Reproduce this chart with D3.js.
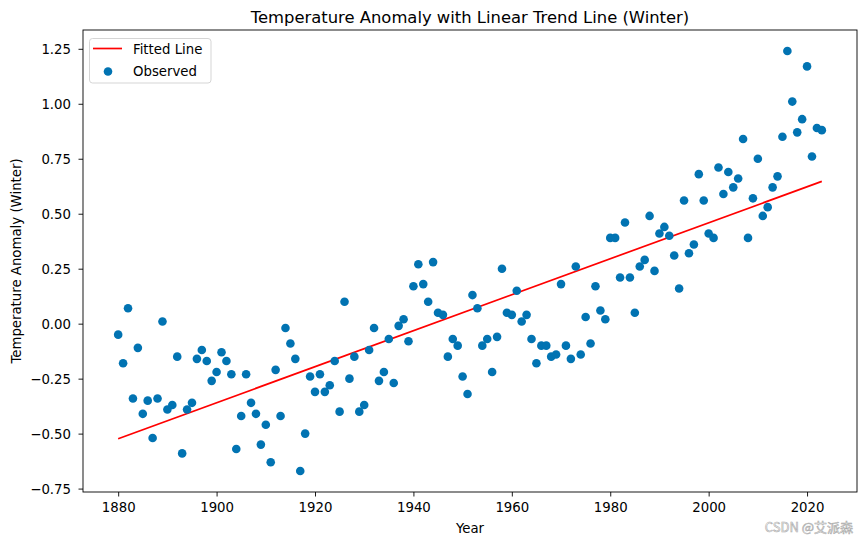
<!DOCTYPE html>
<html>
<head>
<meta charset="utf-8">
<script src="https://cdn.jsdelivr.net/npm/d3@7/dist/d3.min.js"></script>
<style>
  html, body { margin: 0; padding: 0; background: #fff; }
  svg { display: block; font-family: "DejaVu Sans", sans-serif; }
</style>
</head>
<body>
<svg id="chart" width="866" height="545"></svg>
<script>
const years = d3.range(1880, 2024);
const anomalies = [
  -0.05, -0.18, 0.07, -0.34, -0.11, -0.41, -0.35, -0.52, -0.34, 0.01,
  -0.39, -0.37, -0.15, -0.59, -0.39, -0.36, -0.16, -0.12, -0.17, -0.26,
  -0.22, -0.13, -0.17, -0.23, -0.57, -0.42, -0.23, -0.36, -0.41, -0.55,
  -0.46, -0.63, -0.21, -0.42, -0.02, -0.09, -0.16, -0.67, -0.50, -0.24,
  -0.31, -0.23, -0.31, -0.28, -0.17, -0.40, 0.10, -0.25, -0.15, -0.40,
  -0.37, -0.12, -0.02, -0.26, -0.22, -0.07, -0.27, -0.01, 0.02, -0.08,
  0.17, 0.27, 0.18, 0.10, 0.28, 0.05, 0.04, -0.15, -0.07, -0.10,
  -0.24, -0.32, 0.13, 0.07, -0.10, -0.07, -0.22, -0.06, 0.25, 0.05,
  0.04, 0.15, 0.01, 0.04, -0.07, -0.18, -0.10, -0.10, -0.15, -0.14,
  0.18, -0.10, -0.16, 0.26, -0.14, 0.03, -0.09, 0.17, 0.06, 0.02,
  0.39, 0.39, 0.21, 0.46, 0.21, 0.05, 0.26, 0.29, 0.49, 0.24,
  0.41, 0.44, 0.40, 0.31, 0.16, 0.56, 0.32, 0.36, 0.68, 0.56,
  0.41, 0.39, 0.71, 0.59, 0.69, 0.62, 0.66, 0.84, 0.39, 0.57,
  0.75, 0.49, 0.53, 0.62, 0.67, 0.85, 1.24, 1.01, 0.87, 0.93,
  1.17, 0.76, 0.89, 0.88
];
const fitYears = [1880, 2023];
const fitValues = [-0.523, 0.647];
const xTicks = [1880, 1900, 1920, 1940, 1960, 1980, 2000, 2020];
const yTicks = [-0.75, -0.50, -0.25, 0.00, 0.25, 0.50, 0.75, 1.00, 1.25];

const svg = d3.select("#chart");
const m = { left: 83, right: 857, top: 30, bottom: 492 };

const xMin = 1880 - 0.05 * 143, xMax = 2023 + 0.05 * 143;
const yMin = -0.67 - 0.05 * 1.91, yMax = 1.24 + 0.05 * 1.91;
const x = d3.scaleLinear().domain([xMin, xMax]).range([m.left, m.right]);
const y = d3.scaleLinear().domain([yMin, yMax]).range([m.bottom, m.top]);

const blue = "#0173b2";
const fs = 13.3;

// fitted line
const fitData = fitYears.map((yr, i) => [yr, fitValues[i]]);
svg.append("path")
  .datum(fitData)
  .attr("fill", "none")
  .attr("stroke", "#ff0000")
  .attr("stroke-width", 1.7)
  .attr("d", d3.line().x(d => x(d[0])).y(d => y(d[1])));

// points
svg.append("g").selectAll("circle")
  .data(years.map((yr, i) => [yr, anomalies[i]]))
  .join("circle")
  .attr("cx", d => x(d[0]))
  .attr("cy", d => y(d[1]))
  .attr("r", 4.3)
  .attr("fill", blue);

// axes
const xAxis = d3.axisBottom(x).tickValues(xTicks).tickFormat(d3.format("d")).tickSize(4.5).tickPadding(6.5);
const yAxis = d3.axisLeft(y).tickValues(yTicks).tickFormat(d => d3.format(".2f")(d).replace("-", "\u2212")).tickSize(4.5).tickPadding(7.5);

const gx = svg.append("g").attr("transform", `translate(0,${m.bottom})`).call(xAxis);
const gy = svg.append("g").attr("transform", `translate(${m.left},0)`).call(yAxis);
[gx, gy].forEach(g => {
  g.select(".domain").remove();
  g.selectAll(".tick line").attr("stroke", "#000").attr("stroke-width", 0.9);
  g.selectAll(".tick text").attr("font-size", fs).attr("fill", "#000")
    .attr("font-family", "DejaVu Sans, sans-serif");
});
gy.selectAll(".tick text").attr("dy", "0.36em");

// frame
svg.append("rect")
  .attr("x", m.left).attr("y", m.top)
  .attr("width", m.right - m.left).attr("height", m.bottom - m.top)
  .attr("fill", "none").attr("stroke", "#000").attr("stroke-width", 0.9);

// title & labels
svg.append("text")
  .attr("x", (m.left + m.right) / 2).attr("y", 22.7)
  .attr("text-anchor", "middle").attr("font-size", 16.4).attr("fill", "#000")
  .text("Temperature Anomaly with Linear Trend Line (Winter)");

svg.append("text")
  .attr("x", (m.left + m.right) / 2).attr("y", 533)
  .attr("text-anchor", "middle").attr("font-size", fs).attr("fill", "#000")
  .text("Year");

svg.append("text")
  .attr("transform", `translate(20.5,${(m.top + m.bottom) / 2}) rotate(-90)`)
  .attr("text-anchor", "middle").attr("font-size", fs).attr("fill", "#000")
  .text("Temperature Anomaly (Winter)");

// legend
const lg = svg.append("g");
lg.append("rect")
  .attr("x", 89.5).attr("y", 38.5).attr("width", 121.5).attr("height", 44.5)
  .attr("rx", 3).attr("fill", "#fff").attr("fill-opacity", 0.8)
  .attr("stroke", "#d0d0d0").attr("stroke-width", 0.9);
lg.append("line")
  .attr("x1", 93).attr("x2", 122).attr("y1", 48.5).attr("y2", 48.5)
  .attr("stroke", "#ff0000").attr("stroke-width", 1.7);
lg.append("circle").attr("cx", 108).attr("cy", 71.5).attr("r", 4.3).attr("fill", blue);
lg.append("text").attr("x", 133).attr("y", 53.5).attr("font-size", fs).attr("fill", "#000").text("Fitted Line");
lg.append("text").attr("x", 133).attr("y", 76).attr("font-size", fs).attr("fill", "#000").text("Observed");

// watermark
svg.append("text")
  .attr("x", 853).attr("y", 532)
  .attr("text-anchor", "end").attr("font-size", 13)
  .attr("font-family", "Noto Sans CJK SC, DejaVu Sans, sans-serif")
  .attr("fill", "none").attr("stroke", "#a8a8a8").attr("stroke-width", 0.6)
  .text("CSDN @艾派森");
</script>
</body>
</html>
